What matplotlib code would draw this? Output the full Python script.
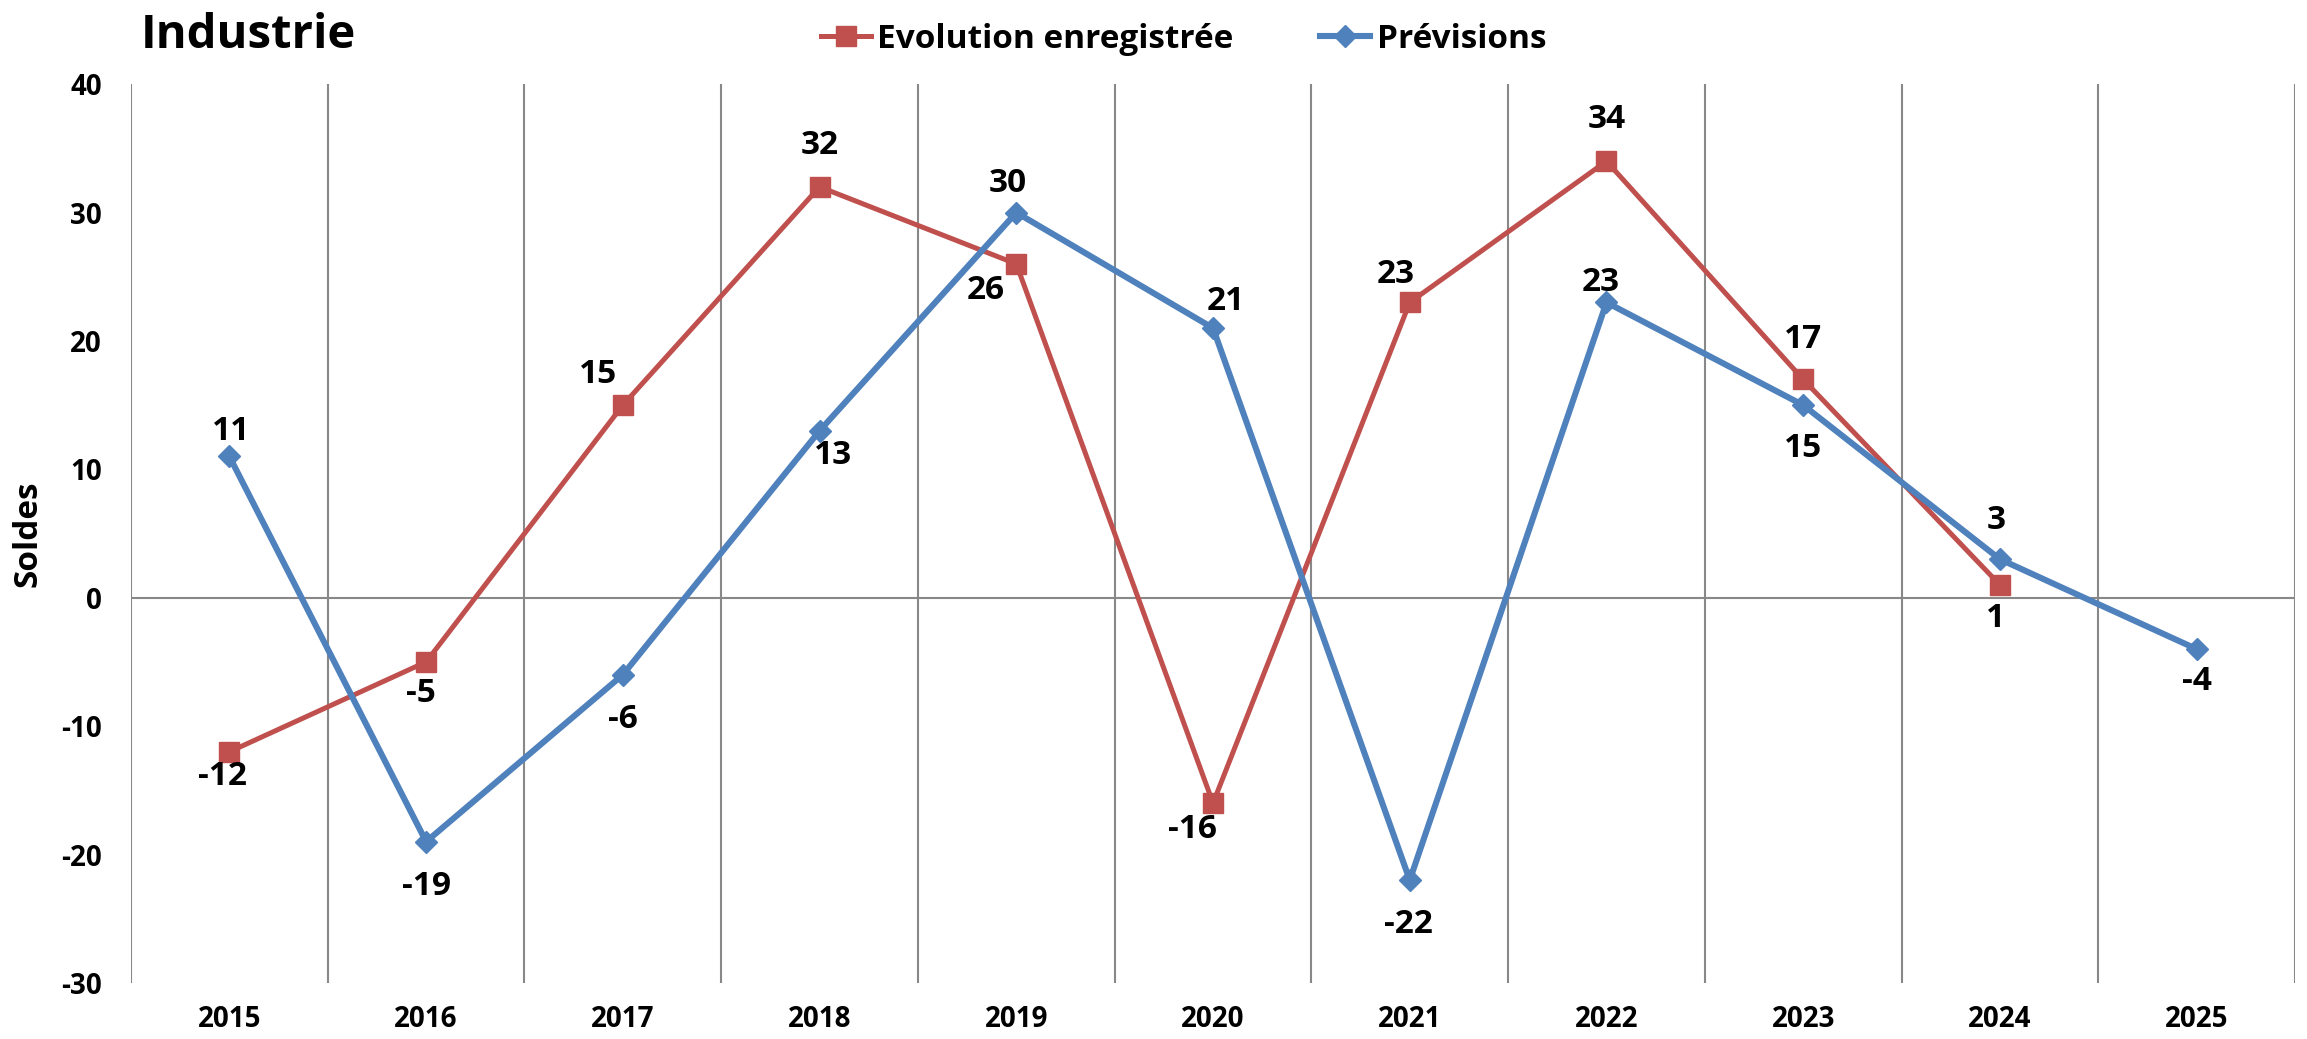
import matplotlib.pyplot as plt

plt.rcParams['font.family'] = ['Open Sans', 'DejaVu Sans']
plt.rcParams['font.weight'] = 'bold'
plt.rcParams['axes.unicode_minus'] = False

# donnees
annees = ['2015', '2016', '2017', '2018', '2019', '2020', '2021', '2022', '2023', '2024', '2025']
evolution = [-12, -5, 15, 32, 26, -16, 23, 34, 17, 1]
previsions = [11, -19, -6, 13, 30, 21, -22, 23, 15, 3, -4]

# decalage des etiquettes (points) : (dx, dy)
off_evol = [(-5, -18), (-4, -23), (-18, 22), (0, 30), (-22, -19),
            (-15, -19), (-10, 20), (0, 30), (0, 29), (-3, -24)]
off_prev = [(1, 18), (0, -32), (0, -32), (10, -18), (-6, 21), (9, 19),
            (-1, -32), (-4, 14), (0, -31), (-3, 28), (0, -23)]

ROUGE = '#C0504D'
BLEU = '#4F81BD'
GRIS = '#888888'

fig = plt.figure(figsize=(23.07, 10.39), dpi=100)
ax = fig.add_axes([0.0568, 0.054, 0.9380, 0.865])

x_ev = list(range(len(evolution)))
x_pr = list(range(len(previsions)))

# grille verticale entre categories
for b in range(len(annees) + 1):
    ax.axvline(b - 0.5, color=GRIS, lw=1.5, zorder=0)
ax.axhline(0, color=GRIS, lw=1.5, zorder=0)

ax.plot(x_ev, evolution, color=ROUGE, lw=3.6, marker='s', markersize=14,
        label='Evolution enregistrée', zorder=3)
ax.plot(x_pr, previsions, color=BLEU, lw=4.4, marker='D', markersize=11,
        label='Prévisions', zorder=4)

for i, v in enumerate(evolution):
    ax.annotate(str(v), (x_ev[i], v), xytext=off_evol[i],
                textcoords='offset points', ha='center', va='center',
                fontsize=24, fontweight='bold')
for i, v in enumerate(previsions):
    ax.annotate(str(v), (x_pr[i], v), xytext=off_prev[i],
                textcoords='offset points', ha='center', va='center',
                fontsize=24, fontweight='bold')

ax.set_xlim(-0.5, len(annees) - 0.5)
ax.set_ylim(-30, 40)
ax.set_yticks(range(-30, 41, 10))
ax.set_xticks(x_pr)
ax.set_xticklabels(annees)
ax.tick_params(axis='y', length=0, pad=21, labelsize=20)
ax.tick_params(axis='x', length=0, pad=16, labelsize=20)
for lab in ax.get_xticklabels() + ax.get_yticklabels():
    lab.set_fontweight('bold')

for s in ax.spines.values():
    s.set_visible(False)

ax.set_ylabel('Soldes', fontsize=24, fontweight='bold')
ax.yaxis.set_label_coords(-0.04, 0.5)

fig.text(0.061, 0.966, 'Industrie', fontsize=34, fontweight='bold', va='center', ha='left')

leg = fig.legend(loc='center', bbox_to_anchor=(0.513, 0.962), ncol=2, frameon=False,
                 fontsize=24, handlelength=1.5, columnspacing=2.6, handletextpad=0.2)
for t in leg.get_texts():
    t.set_fontweight('bold')

fig.savefig('out.png', dpi=100)
